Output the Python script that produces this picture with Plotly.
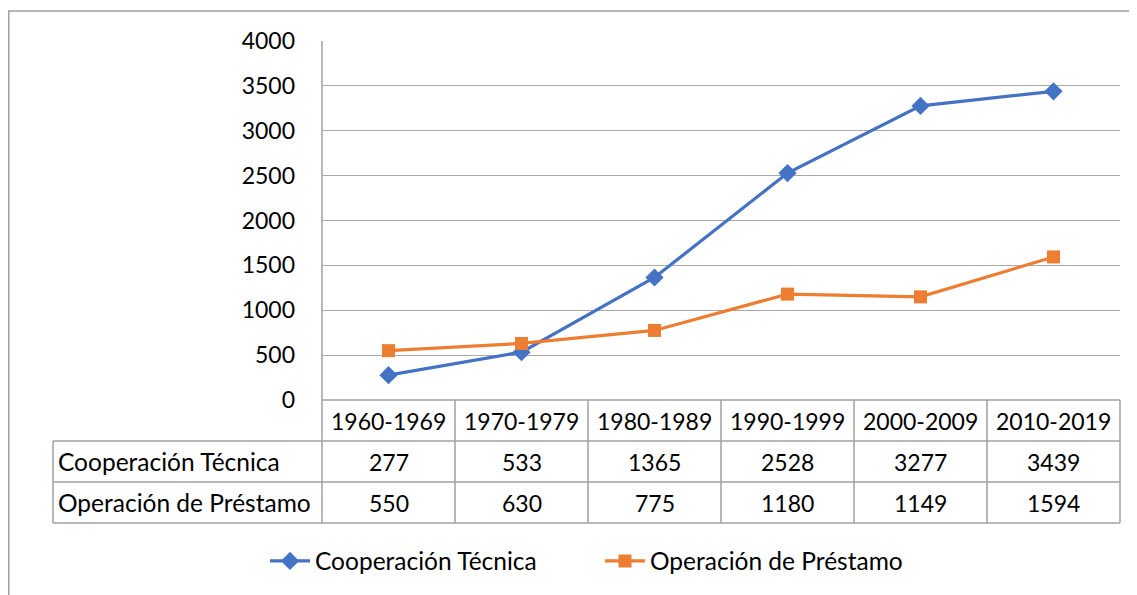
import plotly.graph_objects as go

decades = ["1960-1969", "1970-1979", "1980-1989", "1990-1999", "2000-2009", "2010-2019"]
coop_tecnica = [277, 533, 1365, 2528, 3277, 3439]
op_prestamo = [550, 630, 775, 1180, 1149, 1594]
series_names = ["Cooperación Técnica", "Operación de Préstamo"]
y_ticks = [0, 500, 1000, 1500, 2000, 2500, 3000, 3500, 4000]

OFF = 8  # page body margin
W, H = 1137 - OFF, 595 - OFF
ML, MR, MT, MB = 322 - OFF, 17, 41 - OFF, 195
plot_h = H - MT - MB
plot_w = W - ML - MR
FONT = "Lato"
FS = 23      # numbers
FS_TXT = 24.5  # words
GRID = "#a8a8a8"
TBL = "#a0a0a0"


def py(v):
    # viewport pixel y -> paper y
    return (H - MB - (v - OFF)) / plot_h


def px(v):
    return (v - OFF - ML) / plot_w


fig = go.Figure()
fig.add_trace(go.Scatter(x=decades, y=coop_tecnica, name=series_names[0], mode="lines+markers",
                         line=dict(color="#4472C4", width=3.2),
                         marker=dict(symbol="diamond", size=14, color="#4472C4")))
fig.add_trace(go.Scatter(x=decades, y=op_prestamo, name=series_names[1], mode="lines+markers",
                         line=dict(color="#ED7D31", width=3.2),
                         marker=dict(symbol="square", size=13, color="#ED7D31")))

shapes = []
# outer chart border
shapes.append(dict(type="rect", xref="paper", yref="paper", x0=px(8.8), x1=px(1145), y0=py(11), y1=py(605),
                   line=dict(color="#a0a0a0", width=1.5), layer="below"))

row_top = [400, 441, 482, 523]
label_left = px(53)
# horizontal table lines
shapes.append(dict(type="line", xref="paper", yref="paper", x0=0, x1=1, y0=py(row_top[0]), y1=py(row_top[0]),
                   line=dict(color=TBL, width=1.5)))
for r in row_top[1:]:
    shapes.append(dict(type="line", xref="paper", yref="paper", x0=label_left, x1=1, y0=py(r), y1=py(r),
                       line=dict(color=TBL, width=1.5)))
# vertical table lines
shapes.append(dict(type="line", xref="paper", yref="paper", x0=0, x1=0, y0=1, y1=py(row_top[-1]),
                   line=dict(color=TBL, width=1.5)))
shapes.append(dict(type="line", xref="paper", yref="paper", x0=1, x1=1, y0=py(row_top[0]), y1=py(row_top[-1]),
                   line=dict(color=TBL, width=1.5)))
shapes.append(dict(type="line", xref="paper", yref="paper", x0=label_left, x1=label_left,
                   y0=py(row_top[1]), y1=py(row_top[-1]), line=dict(color=TBL, width=1.5)))
for i in range(1, len(decades)):
    shapes.append(dict(type="line", xref="x", yref="paper", x0=i - 0.5, x1=i - 0.5,
                       y0=py(row_top[0]), y1=py(row_top[-1]), line=dict(color=TBL, width=1.5)))

annotations = []
tf = dict(family=FONT, size=FS, color="#000000")
tft = dict(family=FONT, size=FS_TXT, color="#000000")
for i, d in enumerate(decades):
    annotations.append(dict(x=d, xref="x", y=py((row_top[0] + row_top[1]) / 2), yref="paper",
                            text=d, showarrow=False, font=tf, xanchor="center", yanchor="middle"))
    annotations.append(dict(x=d, xref="x", y=py((row_top[1] + row_top[2]) / 2), yref="paper",
                            text=str(coop_tecnica[i]), showarrow=False, font=tf, xanchor="center", yanchor="middle"))
    annotations.append(dict(x=d, xref="x", y=py((row_top[2] + row_top[3]) / 2), yref="paper",
                            text=str(op_prestamo[i]), showarrow=False, font=tf, xanchor="center", yanchor="middle"))
for k, nm in enumerate(series_names):
    annotations.append(dict(x=px(56), xref="paper", y=py((row_top[k + 1] + row_top[k + 2]) / 2), yref="paper",
                            text=nm, showarrow=False, font=tft, xanchor="left", yanchor="middle"))

fig.update_layout(
    width=W, height=H,
    margin=dict(l=ML, r=MR, t=MT, b=MB, pad=0),
    paper_bgcolor="white", plot_bgcolor="white",
    font=dict(family=FONT, size=FS, color="#000000"),
    xaxis=dict(type="category", range=[-0.5, len(decades) - 0.5], showticklabels=False, showgrid=False,
               zeroline=False, showline=False, ticks=""),
    yaxis=dict(range=[0, 4000], tickvals=y_ticks, showgrid=True, gridcolor=GRID, gridwidth=1.2,
               zeroline=False, showline=False, ticks="", ticklabelstandoff=26,
               tickfont=dict(family=FONT, size=FS, color="#000000")),
    showlegend=True,
    legend=dict(orientation="h", x=px(265), xanchor="left", y=py(561), yanchor="middle",
                font=dict(family=FONT, size=FS_TXT, color="#000000"), itemwidth=40,
                entrywidth=280, entrywidthmode="pixels",
                bgcolor="rgba(0,0,0,0)"),
    shapes=shapes, annotations=annotations,
)

fig.write_html("out.html")
